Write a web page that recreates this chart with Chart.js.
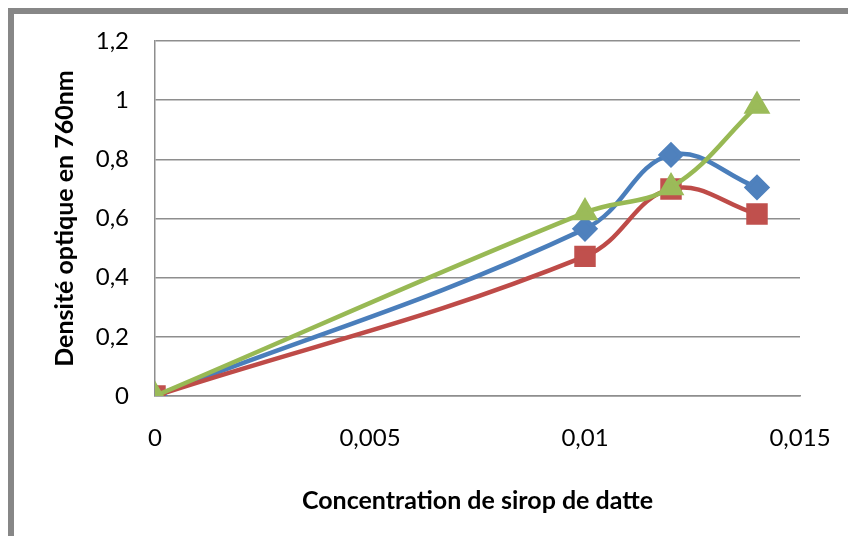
<!DOCTYPE html>
<html><head><meta charset="utf-8">
<script src="https://cdn.jsdelivr.net/npm/chart.js@4"></script>
<style>
html,body{margin:0;padding:0;background:#fff;}
#wrap{position:relative;width:848px;height:536px;overflow:hidden;}
#frame{position:absolute;left:8px;top:8px;width:1000px;height:1000px;border-left:6px solid #878787;border-top:6px solid #878787;}
canvas{position:absolute;left:0;top:0;}
</style>
</head><body>
<div id="wrap"><div id="frame"></div><canvas id="c" width="848" height="536"></canvas></div>
<script>
const concentrations = [0, 0.01, 0.012, 0.014];
const series1 = [0, 0.565, 0.815, 0.705];
const series2 = [0, 0.472, 0.700, 0.615];
const series3 = [0, 0.620, 0.705, 0.980];
const xTickValues = [0, 0.005, 0.01, 0.015];
const yTickValues = [0, 0.2, 0.4, 0.6, 0.8, 1, 1.2];
const xTitle = 'Concentration de sirop de datte';
const yTitle = 'Densité optique en 760nm';

const fmt = v => Number(v.toFixed(4)).toString().replace('.', ',');
const pts = arr => concentrations.map((x, i) => ({x: x, y: arr[i]}));

const FONT = 'Lato, "Open Sans", sans-serif';

new Chart(document.getElementById('c'), {
  type: 'line',
  data: {
    datasets: [
      {label: 'S1', data: pts(series1), borderColor: '#4a7ebb', backgroundColor: '#4a7ebb',
       pointBackgroundColor: '#4f81bd', pointBorderColor: '#4f81bd',
       pointStyle: 'rectRot', pointRadius: 10, borderWidth: 4.5, tension: 0.4, order: 3},
      {label: 'S2', data: pts(series2), borderColor: '#be4b48', backgroundColor: '#c0504d',
       pointBackgroundColor: '#c0504d', pointBorderColor: '#c0504d',
       pointStyle: 'rect', pointRadius: 12, borderWidth: 4.5, tension: 0.4, order: 2},
      {label: 'S3', data: pts(series3), borderColor: '#98b954', backgroundColor: '#9bbb59',
       pointBackgroundColor: '#9bbb59', pointBorderColor: '#9bbb59',
       pointStyle: 'triangle', pointRadius: 11, borderWidth: 4.5, tension: 0.4, order: 1}
    ]
  },
  options: {
    responsive: false,
    animation: false,
    layout: {padding: {left: 0, top: 41, right: 48, bottom: 0}},
    plugins: {legend: {display: false}, tooltip: {enabled: false}},
    scales: {
      x: {
        type: 'linear', min: 0, max: 0.015,
        afterBuildTicks: s => { s.ticks = xTickValues.map(v => ({value: v})); },
        afterFit: s => { s.height = 140; s.paddingLeft = 0; s.paddingRight = 0; },
        grid: {display: false, drawTicks: false},
        border: {display: true, color: '#8e8e8e', width: 1.5},
        ticks: {padding: 28, color: '#000', font: {family: FONT, size: 24}, callback: v => fmt(v), maxRotation: 0},
        title: {display: true, text: xTitle, color: '#000', font: {family: FONT, size: 25, weight: 'bold'}, padding: {top: 0, bottom: 20}}
      },
      y: {
        type: 'linear', min: 0, max: 1.2,
        afterBuildTicks: s => { s.ticks = yTickValues.map(v => ({value: v})); },
        afterFit: s => { s.width = 155; },
        grid: {display: true, drawTicks: false, color: '#8e8e8e', lineWidth: 1.5},
        border: {display: true, color: '#8e8e8e', width: 1.5},
        ticks: {padding: 26, color: '#000', font: {family: FONT, size: 24}, callback: v => fmt(v)},
        title: {display: true, text: yTitle, color: '#000', font: {family: FONT, size: 25, weight: 'bold'}, padding: {top: 50, bottom: 0}}
      }
    }
  }
});
</script>
</body></html>
